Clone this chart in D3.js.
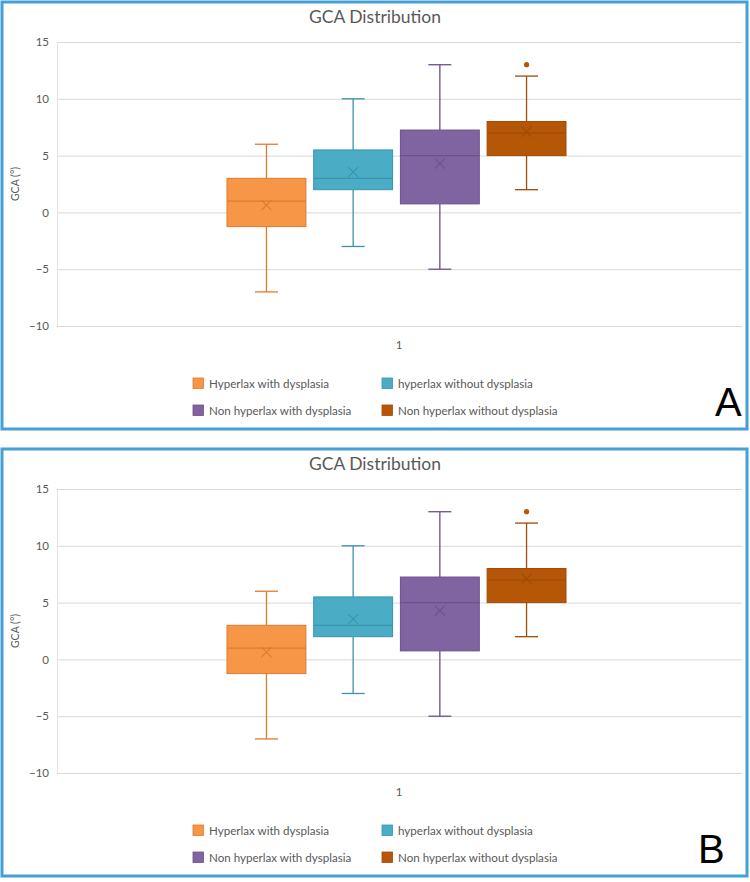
<!DOCTYPE html>
<html>
<head>
<meta charset="utf-8">
<script src="https://cdn.jsdelivr.net/npm/d3@7"></script>
<style>
  body { margin: 0; background: #fff; }
  svg { display: block; font-family: Lato, "Open Sans", sans-serif; }
</style>
</head>
<body>
<svg width="750" height="882"></svg>
<script>
// GCA box plot data, per group
var series = ["Hyperlax with dysplasia", "hyperlax without dysplasia", "Non hyperlax with dysplasia", "Non hyperlax without dysplasia"];
var mins = [-7, -3, -5, 2];
var q1s = [-1.25, 2, 0.75, 5];
var medians = [1, 3, 5, 7];
var q3s = [3, 5.5, 7.25, 8];
var maxs = [6, 10, 13, 12];
var means = [0.65, 3.55, 4.3, 7.1];
var outliers = [[], [], [], [13]];
var yTicks = [-10, -5, 0, 5, 10, 15];
var category = "1";
var panels = ["A", "B"];

var fills = ["#F79646", "#4BACC6", "#8064A2", "#B65708"];
var strokes = ["#E07A2C", "#3A93AC", "#6B5089", "#A04B06"];

var svg = d3.select("svg");

function drawPanel(top, letter, letterX) {
	var g = svg.append("g").attr("transform", "translate(0," + top + ")");

	// frame
	g.append("rect")
		.attr("x", 2).attr("y", 2)
		.attr("width", 745).attr("height", 427)
		.attr("fill", "#fff")
		.attr("stroke", "#45A0D6")
		.attr("stroke-width", 3);

	g.append("text")
		.attr("x", 375).attr("y", 23)
		.attr("text-anchor", "middle")
		.attr("font-size", 17.5)
		.attr("fill", "#595959")
		.text("GCA Distribution");

	var y = d3.scaleLinear().domain([-10, 15]).range([326, 42]);
	var x = d3.scaleBand().domain(series).range([227, 566]).paddingInner(0.09);

	// gridlines
	g.append("g")
		.selectAll("line")
		.data(yTicks)
		.enter()
		.append("line")
			.attr("x1", 57).attr("x2", 742)
			.attr("y1", d => y(d) + 0.5).attr("y2", d => y(d) + 0.5)
			.attr("stroke", "#d9d9d9")
			.attr("stroke-width", 1);
	g.append("line")
		.attr("x1", 57.5).attr("x2", 57.5)
		.attr("y1", y(15)).attr("y2", y(-10))
		.attr("stroke", "#e3e3e3");

	var yAxis = g.append("g")
		.attr("transform", "translate(49,0)")
		.call(d3.axisLeft(y).tickValues(yTicks).tickSize(0).tickPadding(0));
	yAxis.select(".domain").remove();
	yAxis.selectAll("text")
		.attr("font-family", "Lato, sans-serif")
		.attr("font-size", 11.5)
		.attr("fill", "#595959");

	g.append("text")
		.attr("transform", "translate(19," + y(2.5) + ") rotate(-90)")
		.attr("text-anchor", "middle")
		.attr("font-size", 10.5)
		.attr("fill", "#595959")
		.text("GCA (°)");

	g.append("text")
		.attr("x", 399).attr("y", 349)
		.attr("text-anchor", "middle")
		.attr("font-size", 11.5)
		.attr("fill", "#595959")
		.text(category);

	// boxes
	var bw = x.bandwidth();
	series.forEach(function(s, i) {
		var cx = x(s) + bw / 2;
		var col = strokes[i];
		var bg = g.append("g");
		// whiskers
		bg.append("line").attr("x1", cx).attr("x2", cx).attr("y1", y(maxs[i])).attr("y2", y(q3s[i]))
			.attr("stroke", col).attr("stroke-width", 1.3);
		bg.append("line").attr("x1", cx).attr("x2", cx).attr("y1", y(q1s[i])).attr("y2", y(mins[i]))
			.attr("stroke", col).attr("stroke-width", 1.3);
		[maxs[i], mins[i]].forEach(function(v) {
			bg.append("line").attr("x1", cx - 11.5).attr("x2", cx + 11.5).attr("y1", y(v)).attr("y2", y(v))
				.attr("stroke", col).attr("stroke-width", 1.3);
		});
		bg.append("rect")
			.attr("x", x(s)).attr("y", y(q3s[i]))
			.attr("width", bw).attr("height", y(q1s[i]) - y(q3s[i]))
			.attr("fill", fills[i])
			.attr("stroke", col)
			.attr("stroke-width", 1);
		bg.append("line").attr("x1", x(s)).attr("x2", x(s) + bw).attr("y1", y(medians[i])).attr("y2", y(medians[i]))
			.attr("stroke", col).attr("stroke-width", 1.3);
		// mean marker
		var my = y(means[i]);
		bg.append("path")
			.attr("d", "M" + (cx - 5) + "," + (my - 5) + "L" + (cx + 5) + "," + (my + 5) +
				"M" + (cx - 5) + "," + (my + 5) + "L" + (cx + 5) + "," + (my - 5))
			.attr("stroke", col).attr("stroke-width", 1.1);
		bg.selectAll("circle")
			.data(outliers[i])
			.enter()
			.append("circle")
				.attr("cx", cx).attr("cy", d => y(d))
				.attr("r", 2.6)
				.attr("fill", fills[i]);
	});

	// legend
	var lx = [193, 382], ly = [378, 405];
	series.forEach(function(s, i) {
		var lg = g.append("g").attr("transform", "translate(" + lx[i % 2] + "," + ly[Math.floor(i / 2)] + ")");
		lg.append("rect").attr("width", 10.5).attr("height", 10.5)
			.attr("fill", fills[i]).attr("stroke", strokes[i]).attr("stroke-width", 0.8);
		lg.append("text").attr("x", 16).attr("y", 9.8)
			.attr("font-size", 11.6)
			.attr("fill", "#595959")
			.text(s);
	});

	g.append("text")
		.attr("x", letterX).attr("y", 416)
		.attr("font-family", "Liberation Sans, Arial, sans-serif")
		.attr("font-size", 40)
		.attr("fill", "#000")
		.text(letter);
}

drawPanel(0, panels[0], 715);
drawPanel(447, panels[1], 698);
</script>
</body>
</html>
